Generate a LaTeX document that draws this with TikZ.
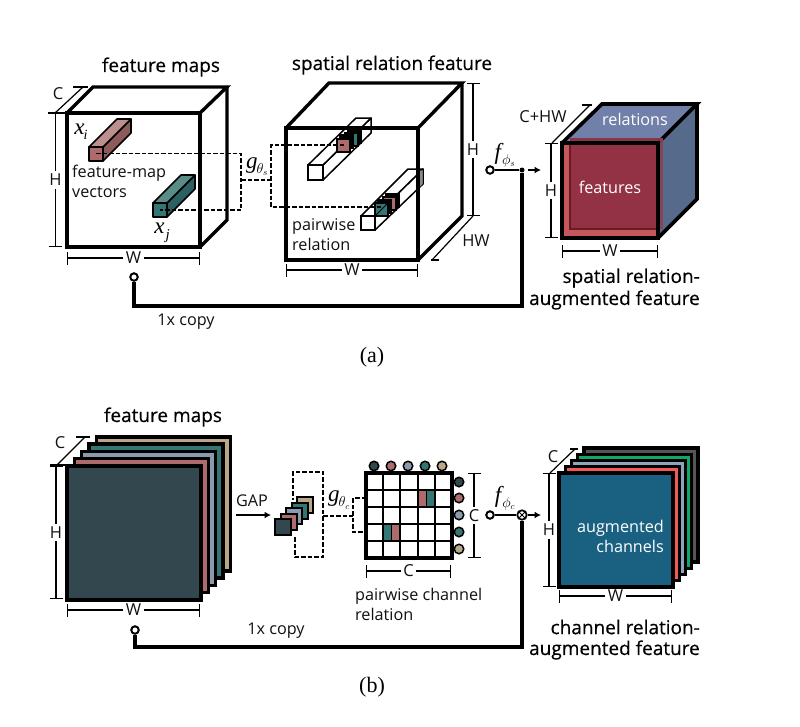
\documentclass[tikz,border=0pt]{standalone}
\usepackage{fontspec}
\setmainfont{Open Sans}
\newfontfamily\serifcap{Liberation Serif}
\newfontfamily\titlef[FakeBold=0.5]{Open Sans}
\usetikzlibrary{arrows.meta}
\definecolor{cdark}{HTML}{33474F}
\definecolor{cpink}{HTML}{AD6B6B}
\definecolor{cgrey}{HTML}{8A9BB0}
\definecolor{cteal}{HTML}{347674}
\definecolor{ctan}{HTML}{B8A888}
\definecolor{txt}{HTML}{101010}
\definecolor{pinktop}{HTML}{BD8F8F}
\definecolor{pinkside}{HTML}{8F5A5A}
\definecolor{tealtop}{HTML}{5A8C88}
\definecolor{tealside}{HTML}{2C6063}
\definecolor{midgrey}{HTML}{888888}
\definecolor{reltop}{HTML}{7080A8}
\definecolor{relside}{HTML}{566A8C}
\definecolor{redlight}{HTML}{C4585C}
\definecolor{reddark}{HTML}{933245}
\definecolor{redrim}{HTML}{701820}
\definecolor{redover}{HTML}{8A3040}
\definecolor{redside}{HTML}{8A4055}
\definecolor{sblue}{HTML}{1A6080}
\definecolor{sred}{HTML}{F05A5A}
\definecolor{sgrey}{HTML}{8CA5BD}
\definecolor{sgreen}{HTML}{10A868}
\definecolor{sdark}{HTML}{555555}
\tikzset{
  lab/.style={inner sep=0pt,text=txt,font=\fontsize{16.2}{20}\selectfont,align=left},
  title/.style={inner sep=0pt,text=black,font=\titlef\fontsize{19}{22}\selectfont,align=right},
  dimlab/.style={inner sep=2.5pt,text=txt,font=\fontsize{16.5}{17}\selectfont},
  dimline/.style={draw=black,line width=1.2pt},
  dimbar/.style={-{Bar[width=13pt,length=0pt,line width=1.2pt]}},
  thick cube/.style={draw=black,line join=miter},
  dashedl/.style={draw=black,line width=1.2pt,dash pattern=on 4.5pt off 2pt},
  port/.style={circle,draw=black,line width=2pt,fill=white,minimum size=7.5pt,inner sep=0pt},
  bus/.style={draw=black,line width=3.2pt},
  link/.style={draw=black,line width=1.7pt},
  tiparrow/.style={-{Latex[length=6.5pt,width=7pt]},line width=1.7pt},
  bubble/.style={circle,draw=black,line width=1.7pt,minimum size=9.5pt,inner sep=0pt},
  capt/.style={inner sep=0pt,font=\serifcap\fontsize{22}{24}\selectfont},
  mathlab/.style={inner sep=0pt,font=\serifcap\itshape\fontsize{23}{26}\selectfont}
}
% subscript of the italic labels
\newcommand{\subm}[1]{\raisebox{-5pt}{\normalfont\fontsize{19}{19}\selectfont$\scriptstyle #1$}}
% horizontal dimension
\newcommand{\hdimen}[5]{%
  \coordinate (#1-a) at (#2,#4); \coordinate (#1-b) at (#3,#4);
  \node[dimlab] (#1) at ({(#2+#3)/2},#4) {#5};
  \draw[dimline,dimbar] (#1) -- (#1-a);
  \draw[dimline,dimbar] (#1) -- (#1-b);}
% vertical dimension
\newcommand{\vdimen}[5]{%
  \coordinate (#1-a) at (#2,#3); \coordinate (#1-b) at (#2,#4);
  \node[dimlab] (#1) at (#2,{(#3+#4)/2}) {#5};
  \draw[dimline,dimbar] (#1) -- (#1-a);
  \draw[dimline,dimbar] (#1) -- (#1-b);}
% solid small vector: x y size depth front top side
\newcommand{\vect}[7]{%
  \fill[#7,draw=black,line width=1.6pt,line join=round] (#1+#3,#2) -- ++(#4,-#4) -- ++(0,#3) -- ++(-#4,#4) -- cycle;
  \fill[#6,draw=black,line width=1.6pt,line join=round] (#1,#2) -- ++(#4,-#4) -- ++(#3,0) -- ++(-#4,#4) -- cycle;
  \fill[#5,draw=black,line width=2pt,line join=round] (#1,#2) rectangle ++(#3,#3);}
% stack of layers: line width, x y size step, colours back to front
\newcommand{\stacklayers}[6]{%
  \foreach \c [count=\k from 0] in {#6} {
    \pgfmathsetmacro{\off}{(4-\k)*#5}
    \draw[black,line width=#1,fill=\c,line join=miter]
      ({#2+\off},{#3-\off}) rectangle ++(#4,#4);
  }}
\begin{document}
\begin{tikzpicture}[x=1pt,y=-1pt]
\useasboundingbox (0,0) rectangle (800,726);

%%%% (a) first cube
\draw[thick cube,line width=3.4pt] (67,113) -- (93,87) -- (227,87) -- (200,113);
\draw[thick cube,line width=3.4pt] (227,87) -- (227,220) -- (200,247);
\draw[thick cube,line width=3.8pt] (67,113) rectangle (200,247);
\node[title] (tA) at (161,67) {feature maps};

\coordinate (vi) at (96,153.5);
\coordinate (vj) at (160,210);
\coordinate (ga) at (241,153.5);
\coordinate (gb) at (241,210);
\coordinate (gm) at (241,180);
\coordinate (hl) at (271,180);
\coordinate (ha) at (271,145);
\coordinate (hb) at (271,207);
\coordinate (pi) at (344,145);
\coordinate (tj) at (382,207);

\vect{89}{147}{14}{28}{cpink}{pinktop}{pinkside}
\vect{153}{203}{14}{28}{cteal}{tealtop}{tealside}
\draw[dashedl] (vi) -- (ga) -- (gb) -- (vj);
\draw[dashedl] (gm) -- (hl);

\node[mathlab] (xi) at (81,132) {x\kern-1pt\raisebox{-5pt}{\fontsize{14}{14}\selectfont i}};
\node[mathlab] (xj) at (162,233) {x\kern1pt\raisebox{-6pt}{\fontsize{15}{15}\selectfont j}};
\node[lab,anchor=north west] (fmv) at (72,165) {feature-map\\vectors};
\node[mathlab] (g1) at (257,167) {g\kern-1pt\subm{\theta_s}};

\draw[dimline] (55,113) -- (83,87);
\draw[dimline] (48,113) -- (67,113);
\draw[dimline] (73,87) -- (88,87);
\node[dimlab] (cA) at (58,94) {C};
\vdimen{hA}{55.5}{113}{247}{H}
\hdimen{wA}{67}{200}{258}{W}

\node[port] (pA) at (134,277) {};
\coordinate (busA) at (134,306);
\coordinate (busB) at (522,306);
\node[circle,fill=black,inner sep=0pt,minimum size=5pt] (dotA) at (522,170) {};
\draw[bus] (pA) -- (busA) -- (busB) -- (dotA);
\node[lab] (cpA) at (186,322) {1x copy};

%%%% (a) second cube
\draw[thick cube,line width=3.4pt] (286,128) -- (329,83) -- (462,83) -- (418,128);
\draw[thick cube,line width=3.4pt] (462,83) -- (462,216) -- (418,260);
\draw[thick cube,line width=3.8pt] (286,128) rectangle (418,260);
\node[title] (tB) at (392,65) {spatial relation feature};

% empty vectors
\draw[line width=1.5pt,fill=white,line join=round] (323,165) -- (371,118) -- (371,133) -- (323,180) -- cycle;
\draw[line width=1.5pt,fill=white,line join=round] (308,165) -- (356,118) -- (371,118) -- (323,165) -- cycle;
\draw[line width=1.5pt,fill=white,line join=round] (375,216) -- (423,169) -- (423,184) -- (375,230) -- cycle;
\draw[line width=1.5pt,fill=white,line join=round] (361,216) -- (408,169) -- (423,169) -- (375,216) -- cycle;
\fill[midgrey] (418.5,172) -- (422.5,170) -- (422.5,184) -- (418.5,188) -- cycle;
\draw[black,line width=3.8pt] (418,128) -- (418,260);
\draw[black,line width=3.8pt] (286,128) -- (418,128);
\draw[line width=1.8pt,fill=white] (308,165) rectangle (323,180);
\draw[line width=1.8pt,fill=white] (361,216) rectangle (375,230);
% inner small squares
\draw[line width=1.5pt,fill=black] (348,130) rectangle ++(13,13);
\draw[line width=1.6pt,fill=cteal] (345,133) rectangle ++(13,13);
\draw[line width=1.5pt,fill=black] (340,135) rectangle ++(13,13);
\draw[line width=1.6pt,fill=cpink] (337,139) rectangle ++(13,13);
\draw[line width=1.5pt,fill=black] (386,194) rectangle ++(13,13);
\draw[line width=1.6pt,fill=cpink] (383,197) rectangle ++(13,13);
\draw[line width=1.5pt,fill=black] (378,200) rectangle ++(13,13);
\draw[line width=1.6pt,fill=cteal] (375,203) rectangle ++(13,13);
\draw[line width=1pt] (375,216) -- (388,203);

\draw[dashedl] (pi) -- (ha) -- (hb) -- (tj);
\node[lab,anchor=north west] (pr) at (292,218) {pairwise\\relation};

\vdimen{hB}{473}{83}{216}{H}
\coordinate (hwa) at (432,260);
\coordinate (hwb) at (473,216);
\draw[dimline] (hwa) -- (hwb);
\draw[dimline] (431,260) -- (439,260);
\node[dimlab] (hwB) at (476,241) {HW};
\hdimen{wB}{286}{418}{270}{W}

%%%% f phi s
\node[port] (pB) at (490,170) {};
\node[mathlab] (f1) at (505,155) {f\kern1pt\subm{\phi_s}};
\coordinate (ar) at (541,170);
\coordinate (as) at (528,170);
\draw[link] (pB) -- (dotA);
\draw[tiparrow] (as) -- (ar);

%%%% (a) third cube
\fill[reltop] (562,143) -- (602,104) -- (697,104) -- (658,143) -- cycle;
\fill[relside] (658,143) -- (697,104) -- (697,199) -- (658,238) -- cycle;
\draw[thick cube,line width=3.6pt] (562,143) -- (602,104) -- (697,104) -- (658,143);
\draw[thick cube,line width=3.6pt] (697,104) -- (697,199) -- (658,238);
\fill[redlight] (562,143) rectangle (658,238);
\draw[thick cube,line width=3.8pt] (562,143) rectangle (658,238);
\fill[reddark] (570,145) rectangle (656,229);
\draw[redrim,line width=1.5pt] (570,145) -- (570,229) -- (656,229);
\fill[redover,opacity=.9] (570,138) rectangle (663,141.2);
\fill[redside,opacity=.9] (660,138) rectangle (663,229);
\node[lab,text=white] (rel) at (635,119) {relations};
\node[lab,text=white] (feat) at (610,187) {features};

\draw[dimline] (552,143) -- (590,105);
\draw[dimline] (582,105) -- (592,105);
\node[dimlab] (chw) at (543,117) {C+HW};
\vdimen{hC}{551}{143}{238}{H}
\hdimen{wC}{562}{658}{251}{W}
\node[title,anchor=east] (tC) at (700,278) {spatial relation-};
\node[title,anchor=east] (tD) at (700,300) {augmented feature};

\node[capt] (capa) at (372,357) {(a)};

%%%% (b) first stack
\stacklayers{3.4pt}{67}{466}{134}{7.3}{ctan,cteal,cgrey,cpink,cdark}
\node[title] (tE) at (163,417) {feature maps};
\draw[dimline] (57,465) -- (85,437);
\draw[dimline] (50,465) -- (67,465);
\draw[dimline] (76,437) -- (90,437);
\node[dimlab] (cE) at (60,443) {C};
\vdimen{hE}{56}{466}{599}{H}
\hdimen{wE}{67}{200}{610}{W}
\node[lab] (gap) at (252,501) {GAP};
\coordinate (gapa) at (236,515);
\coordinate (gapb) at (271,515);
\draw[tiparrow] (gapa) -- (gapb);

%%%% (b) pooled stack
\coordinate (d1) at (295,537);
\coordinate (d2) at (295,557);
\coordinate (d3) at (323,557);
\coordinate (d4) at (323,472);
\coordinate (d5) at (293,472);
\coordinate (d6) at (293,500);
\draw[dashedl] (d1) -- (d2) -- (d3) -- (d4) -- (d5) -- (d6);
\stacklayers{2pt}{275}{519}{16}{5.5}{ctan,cteal,cgrey,cpink,cdark}
\draw[black,line width=2.8pt] (275,519) rectangle ++(16,16);

\node[mathlab] (g2) at (339,500) {g\kern-1pt\subm{\theta_c}};
\coordinate (e0) at (323,516);
\coordinate (e1) at (353,516);
\coordinate (e2) at (353,498);
\coordinate (e3) at (353,532);
\coordinate (e4) at (418,498);
\coordinate (e5) at (384,532);
\draw[dashedl] (e0) -- (e1);
\draw[dashedl] (e4) -- (e2) -- (e3) -- (e5);

%%%% (b) grid
\fill[white] (366,473) rectangle (452,558);
\fill[cpink] (417.6,490) rectangle ++(8.6,17);
\fill[cteal] (426.2,490) rectangle ++(8.6,17);
\fill[cteal] (383.2,524) rectangle ++(8.6,17);
\fill[cpink] (391.8,524) rectangle ++(8.6,17);
\draw[black,line width=1pt] (426.2,490) -- ++(0,17) (391.8,524) -- ++(0,17);
\foreach \i in {1,2,3,4} {
  \draw[black,line width=2.1pt] ({366+17.2*\i},473) -- ++(0,85);
  \draw[black,line width=2.1pt] (366,{473+17*\i}) -- ++(86,0);
}
\draw[black,line width=3.2pt] (366,473) rectangle (452,558);
\foreach \x/\c in {374/cdark,391/cpink,408/cgrey,425/cteal,442/ctan}
  \node[circle,draw=black,line width=1.5pt,fill=\c,minimum size=9.5pt,inner sep=0pt] at (\x,466) {};
\foreach \y/\c in {482/cdark,498/cpink,515/cgrey,532/cteal,549/ctan}
  \node[circle,draw=black,line width=1.5pt,fill=\c,minimum size=9.5pt,inner sep=0pt] at (459,\y) {};
\vdimen{cF}{474}{473}{558}{C}
\hdimen{cG}{366}{451}{571}{C}
\node[lab,anchor=north west] (pc) at (355,588) {pairwise channel\\relation};

%%%% f phi c
\node[port] (pF) at (490,515) {};
\node[mathlab] (f2) at (505,498) {f\kern1pt\subm{\phi_c}};
\node[bubble] (ot) at (522,515) {};
\draw[line width=1pt] (ot.north west) -- (ot.south east) (ot.north east) -- (ot.south west);
\coordinate (ar2) at (541,515);
\draw[link] (pF) -- (ot);
\draw[tiparrow] (ot) -- (ar2);

\node[port] (pE) at (135,630) {};
\coordinate (busC) at (135,647);
\coordinate (busD) at (522,647);
\draw[bus] (pE) -- (busC) -- (busD) -- (ot);
\node[lab] (cpE) at (276,631) {1x copy};

%%%% (b) third stack
\stacklayers{3.4pt}{559}{473}{114}{6.25}{sdark,sgreen,sgrey,sred,sblue}
\node[lab,text=white,align=right,anchor=north east] (aug) at (664,520) {augmented\\channels};
\draw[dimline] (550,473) -- (575,449);
\draw[dimline] (570,449) -- (578,449);
\node[dimlab] (cH) at (553,457) {C};
\vdimen{hH}{549}{473}{587}{H}
\hdimen{wH}{559}{672}{596}{W}
\node[title,anchor=east] (tH) at (700,627) {channel relation-};
\node[title,anchor=east] (tI) at (700,650) {augmented feature};
\node[capt] (capb) at (372,687) {(b)};
\end{tikzpicture}
\end{document}
